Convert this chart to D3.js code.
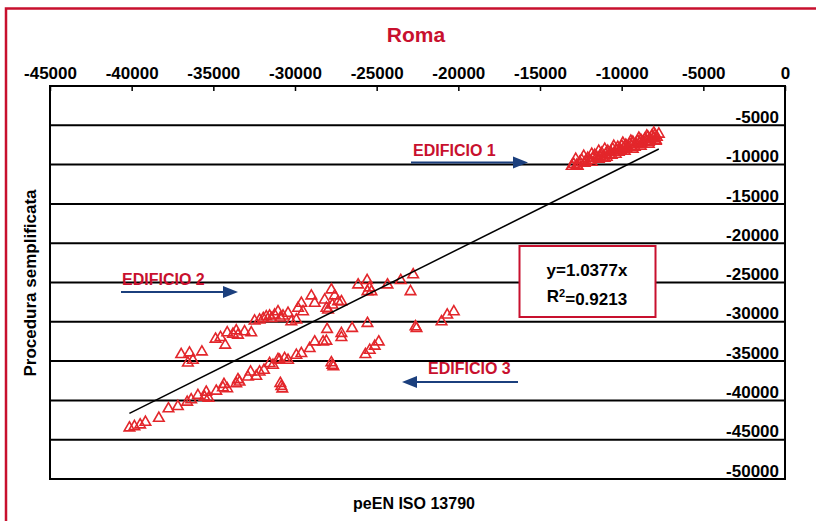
<!DOCTYPE html>
<html>
<head>
<meta charset="utf-8">
<script src="https://cdn.jsdelivr.net/npm/d3@7"></script>
<style>
  body { margin: 0; background: #fff; }
  text { font-family: "Liberation Sans", Arial, sans-serif; font-weight: bold; }
</style>
</head>
<body>
<div id="chart"></div>
<script>
const xTicks = [-45000, -40000, -35000, -30000, -25000, -20000, -15000, -10000, -5000, 0];
const yTicks = [-5000, -10000, -15000, -20000, -25000, -30000, -35000, -40000, -45000, -50000];

const slope = 1.0377;
const r2 = 0.9213;

// EDIFICIO 1 (top right cluster)
const edificio1 = [
  [-13059, -10205], [-12936, -9949], [-12752, -10077], [-12568, -9693], [-12446, -9438],
  [-12200, -9565], [-12078, -9182], [-11955, -9438], [-11832, -9693], [-11771, -9182],
  [-11649, -8798], [-11526, -9054], [-11403, -9310], [-11342, -8926], [-11219, -8542],
  [-11158, -9054], [-11036, -9182], [-10974, -8670], [-10852, -8287], [-10729, -8798],
  [-10668, -8414], [-10606, -8798], [-10545, -8031], [-10422, -8414], [-10300, -8159],
  [-10238, -7775], [-10177, -8414], [-10055, -8159], [-9993, -7647], [-9871, -7903],
  [-9748, -7519], [-9687, -8031], [-9625, -7775], [-9503, -7391], [-9380, -7647],
  [-9319, -7136], [-9196, -7775], [-9135, -7391], [-9012, -7008], [-8890, -7264],
  [-8828, -6880], [-8767, -7391], [-8706, -7136], [-8583, -6752], [-8461, -7008],
  [-8399, -6496], [-8338, -7136], [-8277, -6752], [-8154, -6368], [-8031, -6624],
  [-7970, -6241], [-7909, -6880], [-7847, -6496], [-7725, -6113],
  [-12813, -9310], [-12691, -10205], [-12323, -8926], [-12262, -9821], [-11832, -8670],
  [-11403, -8287], [-11035, -8031], [-10913, -9054], [-10484, -7647], [-10361, -8670],
  [-9932, -7264], [-9809, -8287], [-9441, -7008], [-9319, -8031], [-8951, -6624],
  [-8828, -7647], [-8461, -6368], [-8338, -7391], [-8031, -5985], [-7909, -7008]
];

// EDIFICIO 2 (upper band)
const edificio2 = [
  [-36969, -34156], [-36460, -33952], [-35700, -33824], [-36558, -35231], [-36252, -34886],
  [-34866, -32200], [-34559, -31983], [-34271, -32967], [-34149, -31394], [-33799, -31561],
  [-33597, -31139], [-33493, -31689], [-33088, -31267], [-32677, -31394], [-32475, -29898],
  [-32168, -29770], [-31941, -29579], [-31758, -29349], [-31555, -29259], [-31451, -29579],
  [-31249, -29131], [-31040, -28709], [-30899, -29515], [-30734, -29259], [-30427, -28914],
  [-30225, -29988], [-29918, -29770], [-29814, -28274], [-29612, -27635], [-29508, -28709],
  [-28999, -26701], [-28796, -27635], [-28183, -27213], [-28079, -28274], [-27975, -28492],
  [-27773, -25934], [-27570, -26701], [-27362, -27430], [-27159, -27430], [-27711, -27852],
  [-26136, -25295], [-25584, -24745], [-25565, -26151], [-25320, -26151], [-25443, -25678],
  [-24339, -25295], [-23524, -24745], [-22764, -24016], [-22929, -26151]
];

// EDIFICIO 3 (lower band)
const edificio3 = [
  [-40138, -43492], [-39832, -43326], [-39482, -43108], [-39157, -42776], [-38336, -42264],
  [-37747, -41063], [-37171, -40768], [-36601, -40218], [-36356, -39911], [-35945, -39361],
  [-35540, -39579], [-35436, -38939], [-35295, -39707], [-34823, -38811], [-34412, -38377],
  [-34351, -37955], [-34149, -38505], [-33597, -37865], [-33493, -37354], [-33394, -37660],
  [-32880, -37021], [-32720, -36382], [-32371, -36932], [-32168, -36382], [-31899, -36165],
  [-31555, -35308], [-31347, -35525], [-31040, -34796], [-30942, -34886], [-30636, -34668],
  [-30427, -34886], [-29918, -34246], [-29612, -34029], [-29103, -33390], [-28796, -32546],
  [-28282, -32546], [-28079, -32456], [-28036, -30959], [-27159, -31472], [-27159, -31983],
  [-26504, -30832], [-25565, -30193], [-30838, -38211], [-30899, -37827], [-30777, -38530],
  [-27711, -35525], [-27773, -35205], [-27650, -35717], [-25688, -34156], [-25424, -33607],
  [-25118, -33095], [-24873, -32546], [-22623, -30627], [-22561, -30832], [-21029, -29988],
  [-20679, -29131], [-20275, -28709]
];

const red = "#c8102e";
const markerRed = "#e3262b";
const arrowBlue = "#1b3f7d";

const svg = d3.select("#chart")
  .append("svg")
  .attr("width", 816)
  .attr("height", 521);

// outer red frame
svg.append("path")
  .attr("d", "M6,521 L6,8.5 L816,8.5")
  .attr("fill", "none")
  .attr("stroke", red)
  .attr("stroke-width", 2.5);

const plot = { left: 50, right: 785, top: 86, bottom: 479 };

const x = d3.scaleLinear().domain([-45000, 0]).range([plot.left, plot.right]);
const y = d3.scaleLinear().domain([-50000, 0]).range([plot.bottom, plot.top]);

// title
svg.append("text")
  .attr("x", 416)
  .attr("y", 42)
  .attr("text-anchor", "middle")
  .attr("fill", red)
  .style("font-size", "21px")
  .text("Roma");

// horizontal gridlines
svg.append("g")
  .selectAll("line")
  .data(yTicks.slice(0, -1))
  .join("line")
  .attr("x1", plot.left)
  .attr("x2", plot.right)
  .attr("y1", (d) => y(d))
  .attr("y2", (d) => y(d))
  .attr("stroke", "#000")
  .attr("stroke-width", 2);

// plot border
svg.append("rect")
  .attr("x", plot.left)
  .attr("y", plot.top)
  .attr("width", plot.right - plot.left)
  .attr("height", plot.bottom - plot.top)
  .attr("fill", "none")
  .attr("stroke", "#000")
  .attr("stroke-width", 2);

// top x axis, ticks pointing inward
const xAxis = svg.append("g")
  .attr("transform", `translate(0, ${plot.top})`)
  .call(d3.axisTop(x).tickValues(xTicks).tickSize(-5).tickPadding(7.5).tickFormat((d) => String(d)));
xAxis.select(".domain").remove();
xAxis.selectAll("line").attr("stroke", "#000").attr("stroke-width", 1.5);
xAxis.selectAll("text")
  .attr("fill", "#000")
  .style("font-size", "17px")
  .style("font-family", '"Liberation Sans", Arial, sans-serif')
  .style("font-weight", "bold");

// y labels inside right edge, sitting on their gridlines
const yAxis = svg.append("g")
  .attr("transform", `translate(${plot.right}, 0)`)
  .call(d3.axisLeft(y).tickValues(yTicks).tickSize(0).tickPadding(6).tickFormat((d) => String(d)));
yAxis.select(".domain").remove();
yAxis.selectAll("text")
  .attr("dy", "-0.17em")
  .attr("fill", "#000")
  .style("font-size", "17px")
  .style("font-family", '"Liberation Sans", Arial, sans-serif')
  .style("font-weight", "bold");

// axis titles
svg.append("text")
  .attr("transform", "translate(36, 283) rotate(-90)")
  .attr("text-anchor", "middle")
  .style("font-size", "17px")
  .text("Procedura semplificata");

svg.append("text")
  .attr("x", 414)
  .attr("y", 509)
  .attr("text-anchor", "middle")
  .style("font-size", "16px")
  .text("peEN ISO 13790");

// points
const allPoints = edificio1.concat(edificio2, edificio3);
const triangle = d3.symbol().type(d3.symbolTriangle).size(48);

svg.append("g")
  .selectAll("path")
  .data(allPoints)
  .join("path")
  .attr("d", triangle)
  .attr("transform", (d) => `translate(${x(d[0])}, ${y(d[1])})`)
  .attr("fill", "none")
  .attr("stroke", markerRed)
  .attr("stroke-width", 1.6);

// trendline y = slope * x over data range
const xExtent = d3.extent(allPoints, (d) => d[0]);
svg.append("line")
  .attr("x1", x(xExtent[0]))
  .attr("y1", y(slope * xExtent[0]))
  .attr("x2", x(xExtent[1]))
  .attr("y2", y(slope * xExtent[1]))
  .attr("stroke", "#000")
  .attr("stroke-width", 1.5);

// equation box
svg.append("rect")
  .attr("x", 519.5)
  .attr("y", 246)
  .attr("width", 136)
  .attr("height", 71)
  .attr("fill", "#fff")
  .attr("stroke", red)
  .attr("stroke-width", 2);

svg.append("text")
  .attr("x", 587)
  .attr("y", 276)
  .attr("text-anchor", "middle")
  .style("font-size", "17px")
  .text(`y=${slope}x`);

const r2Text = svg.append("text")
  .attr("x", 587)
  .attr("y", 302)
  .attr("text-anchor", "middle")
  .style("font-size", "17px");
r2Text.append("tspan").text("R");
r2Text.append("tspan").attr("dy", "-0.45em").style("font-size", "11px").text("2");
r2Text.append("tspan").attr("dy", "0.45em").text(`=${r2}`);

// building labels with arrows
const labels = [
  { text: "EDIFICIO 1", tx: 413, ty: 156, x1: 411, x2: 528, ay: 162.5 },
  { text: "EDIFICIO 2", tx: 122, ty: 285, x1: 121, x2: 238, ay: 292 },
  { text: "EDIFICIO 3", tx: 428, ty: 374, x1: 518, x2: 402, ay: 382 }
];

labels.forEach((l) => {
  svg.append("text")
    .attr("x", l.tx)
    .attr("y", l.ty)
    .attr("fill", red)
    .style("font-size", "16px")
    .text(l.text);

  const dir = l.x2 > l.x1 ? 1 : -1;
  const headLen = 15;
  svg.append("line")
    .attr("x1", l.x1)
    .attr("x2", l.x2 - dir * headLen)
    .attr("y1", l.ay)
    .attr("y2", l.ay)
    .attr("stroke", arrowBlue)
    .attr("stroke-width", 2);
  svg.append("path")
    .attr("d", `M${l.x2},${l.ay} L${l.x2 - dir * headLen},${l.ay - 6} L${l.x2 - dir * headLen},${l.ay + 6} Z`)
    .attr("fill", arrowBlue);
});
</script>
</body>
</html>
